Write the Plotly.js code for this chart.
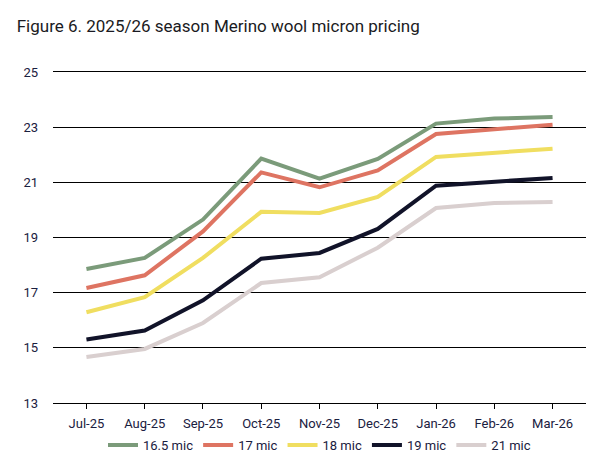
<!DOCTYPE html>
<html>
<head>
<meta charset="utf-8">
<script src="https://cdn.plot.ly/plotly-3.0.1.min.js"></script>
<style>
  body { margin: 0; background: #fff; }
  #chart { width: 596px; height: 466px; }
</style>
</head>
<body>
<div id="chart"></div>
<script>
var months = ["Jul-25", "Aug-25", "Sep-25", "Oct-25", "Nov-25", "Dec-25", "Jan-26", "Feb-26", "Mar-26"];

var mic165 = [17.86, 18.26, 19.65, 21.86, 21.13, 21.85, 23.13, 23.31, 23.37];
var mic17 = [17.17, 17.63, 19.22, 21.36, 20.82, 21.43, 22.75, 22.91, 23.09];
var mic18 = [16.29, 16.84, 18.26, 19.93, 19.89, 20.47, 21.92, 22.06, 22.22];
var mic19 = [15.30, 15.63, 16.72, 18.23, 18.44, 19.31, 20.88, 21.01, 21.16];
var mic21 = [14.67, 14.96, 15.90, 17.35, 17.56, 18.63, 20.07, 20.25, 20.29];

var yTicks = [13, 15, 17, 19, 21, 23, 25];

function series(name, values, color) {
  return {
    type: "scatter",
    mode: "lines",
    name: name,
    x: months,
    y: values,
    line: { color: color, width: 4 }
  };
}

var data = [
  series("16.5 mic", mic165, "#7b9b7a"),
  series("17 mic", mic17, "#de7462"),
  series("18 mic", mic18, "#f0de60"),
  series("19 mic", mic19, "#111329"),
  series("21 mic", mic21, "#d9cfcf")
];

var layout = {
  width: 596,
  height: 466,
  margin: { l: 53, r: 10, t: 72, b: 63, autoexpand: false },
  paper_bgcolor: "#fff",
  plot_bgcolor: "#fff",
  font: { family: "Roboto, 'DejaVu Sans', sans-serif", color: "#1a2040", size: 13 },
  title: {
    text: "Figure 6. 2025/26 season Merino wool micron pricing",
    font: { size: 17, color: "#1a1a22" },
    x: 0.028, xanchor: "left",
    y: 0.945, yanchor: "middle"
  },
  xaxis: {
    type: "category",
    range: [-0.574, 8.574],
    showgrid: false,
    zeroline: false,
    showline: true,
    mirror: true,
    linecolor: "#000",
    linewidth: 1,
    ticks: "outside",
    ticklen: 5,
    tickcolor: "#000",
    tickwidth: 1,
    ticklabelstandoff: 3
  },
  yaxis: {
    range: [13, 25],
    tickvals: yTicks,
    ticktext: yTicks.map(String),
    showgrid: true,
    gridcolor: "#000",
    gridwidth: 1,
    zeroline: false,
    showline: false,
    ticks: "",
    ticklabelstandoff: 14
  },
  showlegend: true,
  legend: {
    orientation: "h",
    x: 0.5, xanchor: "center",
    y: -0.127, yanchor: "middle",
    bgcolor: "rgba(0,0,0,0)",
    font: { size: 13, color: "#1a2040" },
    itemwidth: 30,
    tracegroupgap: 0
  }
};

Plotly.newPlot("chart", data, layout, { displayModeBar: false, staticPlot: true });
</script>
</body>
</html>
